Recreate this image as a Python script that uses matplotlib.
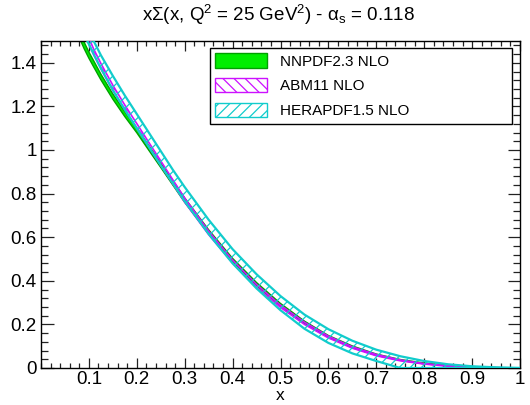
import matplotlib
matplotlib.use("Agg")
import matplotlib.pyplot as plt
from matplotlib.patches import Patch
from matplotlib.ticker import MultipleLocator
import numpy as np

plt.rcParams['font.family'] = ['Liberation Sans', 'DejaVu Sans']
plt.rcParams['mathtext.fontset'] = 'custom'
plt.rcParams['mathtext.rm'] = 'Liberation Sans'
plt.rcParams['mathtext.it'] = 'Liberation Sans:italic'
plt.rcParams['hatch.linewidth'] = 0.9

# x grid of the curves
x = [0.08, 0.09, 0.1, 0.11, 0.125, 0.15, 0.175, 0.2, 0.225, 0.25, 0.275, 0.3,
     0.35, 0.4, 0.45, 0.5, 0.55, 0.6, 0.65, 0.7, 0.75, 0.8, 0.85, 0.9, 0.95, 1.0]

# NNPDF2.3 NLO: central value and half width
nnpdf_c = [1.53, 1.48, 1.435, 1.395, 1.335, 1.245, 1.165, 1.09, 1.01, 0.93, 0.85, 0.77,
           0.625, 0.495, 0.385, 0.29, 0.21, 0.145, 0.097, 0.061, 0.037, 0.021, 0.011, 0.005, 0.0015, 0.0]
nnpdf_e = [0.015, 0.015, 0.014, 0.014, 0.013, 0.012, 0.012, 0.011, 0.011, 0.010, 0.010, 0.010,
           0.009, 0.008, 0.007, 0.006, 0.005, 0.004, 0.004, 0.003, 0.002, 0.002, 0.001, 0.001, 0.0005, 0.0]

# ABM11 NLO
abm_c = [1.61, 1.555, 1.50, 1.45, 1.385, 1.285, 1.195, 1.11, 1.025, 0.94, 0.855, 0.77,
         0.62, 0.488, 0.377, 0.283, 0.205, 0.142, 0.094, 0.059, 0.035, 0.019, 0.009, 0.004, 0.001, 0.0]
abm_e = [0.014, 0.014, 0.013, 0.013, 0.012, 0.012, 0.011, 0.011, 0.010, 0.010, 0.009, 0.009,
         0.008, 0.007, 0.006, 0.005, 0.005, 0.004, 0.003, 0.003, 0.002, 0.001, 0.001, 0.0005, 0.0003, 0.0]

# HERAPDF1.5 NLO: lower and upper edges
hera_lo = [1.58, 1.53, 1.485, 1.44, 1.375, 1.275, 1.185, 1.10, 1.015, 0.93, 0.848, 0.765,
           0.615, 0.48, 0.365, 0.265, 0.18, 0.115, 0.067, 0.032, 0.0, 0.0, 0.0, 0.0, 0.0, 0.0]
hera_hi = [1.65, 1.60, 1.545, 1.50, 1.435, 1.34, 1.25, 1.165, 1.08, 0.995, 0.91, 0.83,
           0.68, 0.545, 0.43, 0.33, 0.245, 0.178, 0.125, 0.084, 0.054, 0.032, 0.017, 0.008, 0.003, 0.0]

labels = ["NNPDF2.3 NLO", "ABM11 NLO", "HERAPDF1.5 NLO"]
green_fill = "#00ee00"
green_edge = "#00a000"
magenta = "#cc11ff"
cyan = "#11cccc"

x = np.array(x)
nn_lo = np.array(nnpdf_c) - np.array(nnpdf_e)
nn_hi = np.array(nnpdf_c) + np.array(nnpdf_e)
ab_lo = np.array(abm_c) - np.array(abm_e)
ab_hi = np.array(abm_c) + np.array(abm_e)

fig = plt.figure(figsize=(5.3, 4.05), dpi=100)
ax = fig.add_axes([41 / 530, 37 / 405, 479 / 530, 327 / 405])

# NNPDF band
ax.fill_between(x, nn_lo, nn_hi, facecolor=green_fill, edgecolor="none", zorder=2)
ax.plot(x, nn_lo, color=green_edge, lw=1.0, zorder=2)
ax.plot(x, nn_hi, color=green_edge, lw=1.0, zorder=2)

# ABM11 band
ax.fill_between(x, ab_lo, ab_hi, facecolor="none", edgecolor=magenta, hatch="\\\\\\\\", lw=0, zorder=3)
ax.plot(x, ab_lo, color=magenta, lw=1.2, zorder=3)
ax.plot(x, ab_hi, color=magenta, lw=1.2, zorder=3)

# HERAPDF band
ax.fill_between(x, hera_lo, hera_hi, facecolor="none", edgecolor=cyan, hatch="///", lw=0, zorder=4)
ax.plot(x, hera_lo, color=cyan, lw=1.6, zorder=4)
ax.plot(x, hera_hi, color=cyan, lw=1.6, zorder=4)

ax.set_xlim(0, 1)
ax.set_ylim(0, 1.5)
ax.set_xticks([0.1, 0.2, 0.3, 0.4, 0.5, 0.6, 0.7, 0.8, 0.9, 1.0])
ax.set_xticklabels(["0.1", "0.2", "0.3", "0.4", "0.5", "0.6", "0.7", "0.8", "0.9", "1"])
ax.set_yticks([0, 0.2, 0.4, 0.6, 0.8, 1.0, 1.2, 1.4])
ax.set_yticklabels(["0", "0.2", "0.4", "0.6", "0.8", "1", "1.2", "1.4"])
ax.xaxis.set_minor_locator(MultipleLocator(0.02))
ax.yaxis.set_minor_locator(MultipleLocator(0.04))
ax.tick_params(axis="both", which="both", direction="in", top=True, right=True,
               labelsize=13.5, width=0.9, color="#222222")
ax.tick_params(axis="x", which="major", length=7.5, pad=2.5)
ax.tick_params(axis="x", which="minor", length=3.8)
ax.tick_params(axis="y", which="major", length=9, pad=3)
ax.tick_params(axis="y", which="minor", length=4.8)
for s in ax.spines.values():
    s.set_linewidth(1.0)

ax.set_xlabel("x", fontsize=12.5, labelpad=0)

fig.text(279 / 530, 1 - 15 / 405,
         "x\u03a3(x, Q$^2$ = 25 GeV$^2$) - \u03b1$_\\mathrm{s}$ = 0.118",
         ha="center", va="center", fontsize=13.5)

handles = [
    Patch(facecolor=green_fill, edgecolor=green_edge, lw=1.0),
    Patch(facecolor="white", edgecolor=magenta, hatch="\\\\\\", lw=1.0),
    Patch(facecolor="white", edgecolor=cyan, hatch="///", lw=1.0),
]
leg = ax.legend(handles, labels, loc="upper left", mode="expand",
                bbox_to_anchor=(210 / 530, 1 - 122 / 405, 302 / 530, 74 / 405),
                bbox_transform=fig.transFigure, borderaxespad=0,
                fontsize=11, handlelength=3.4, handleheight=1.05, handletextpad=0.8,
                labelspacing=0.62, borderpad=0.35, fancybox=False, framealpha=1,
                edgecolor="black")
leg.get_frame().set_linewidth(1.0)
leg.set_zorder(10)

fig.savefig("out.png", dpi=100)
